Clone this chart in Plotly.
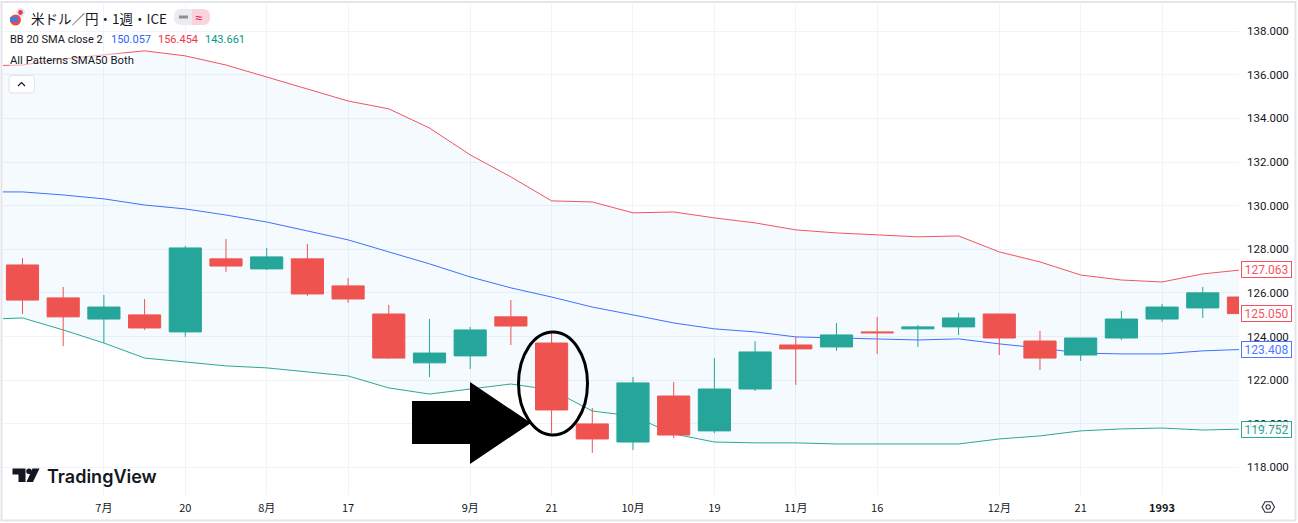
import plotly.graph_objects as go

W, H = 1298, 523

# ---------- data ----------
opens  = [127.28,125.77,124.80,124.99,124.21,127.56,127.10,127.56,126.32,125.03,122.79,123.11,124.90,123.70,119.99,119.16,121.27,119.67,121.59,123.61,123.52,124.21,124.35,124.44,125.03,123.79,123.15,123.93,124.80,125.31,125.81]
highs  = [127.60,126.27,125.90,125.72,128.15,128.47,128.06,128.24,126.68,125.45,124.80,124.44,125.67,124.25,120.72,122.14,121.91,123.01,123.79,123.98,124.62,124.90,124.53,125.08,125.03,124.25,123.93,125.17,125.49,126.27,125.81]
lows   = [125.03,123.56,123.70,124.30,123.98,126.96,127.05,125.86,125.54,122.97,122.14,122.51,123.61,119.57,118.66,118.79,119.34,119.57,121.50,121.78,123.34,123.20,123.52,124.07,123.15,122.46,122.88,123.84,124.67,124.85,125.05]
closes = [125.67,124.90,125.35,124.39,128.06,127.23,127.65,125.95,125.72,123.01,123.24,124.30,124.48,120.63,119.30,121.87,119.48,121.59,123.29,123.43,124.07,124.17,124.44,124.85,123.93,123.01,123.93,124.80,125.35,126.00,125.050]
candle_idx = list(range(31))

band_idx = list(range(-1, 31))
upper = [136.41,136.45,136.73,136.91,137.10,136.87,136.45,135.90,135.35,134.80,134.44,133.56,132.33,131.32,130.22,130.17,129.67,129.71,129.44,129.21,128.89,128.75,128.66,128.57,128.61,127.88,127.42,126.82,126.59,126.50,126.87,127.063]
basis = [130.63,130.63,130.49,130.31,130.03,129.85,129.57,129.25,128.84,128.43,127.88,127.33,126.73,126.23,125.81,125.35,124.99,124.62,124.35,124.21,123.98,123.93,123.89,123.84,123.89,123.66,123.47,123.24,123.20,123.20,123.34,123.408]
lower = [124.78,124.85,124.30,123.70,123.01,122.83,122.65,122.56,122.37,122.19,121.64,121.36,121.59,121.82,121.55,120.58,120.35,119.53,119.16,119.12,119.12,119.07,119.07,119.07,119.07,119.30,119.44,119.67,119.76,119.80,119.71,119.752]

x_tick_pos = [2, 4, 6, 8, 11, 13, 15, 17, 19, 21, 24, 26, 28]
x_tick_txt = ["7月", "20", "8月", "17", "9月", "21", "10月", "19", "11月", "16", "12月", "21", "<b>1993</b>"]
y_ticks = [118, 120, 122, 124, 126, 128, 130, 132, 134, 136, 138]

title_text = "米ドル／円・1週・ICE"
bb_label = "BB 20 SMA close 2"
bb_values = ["150.057", "156.454", "143.661"]
pattern_label = "All Patterns SMA50 Both"

# ---------- style ----------
RED, GREEN = "#ef5350", "#26a69a"
L_RED, L_BLUE, L_GREEN = "#f23645", "#2962ff", "#089981"
LINE_RED, LINE_BLUE, LINE_GREEN = "rgba(242,54,69,0.85)", "rgba(41,98,255,0.9)", "rgba(8,153,129,0.85)"
GRID = "#f0f3fa"
TXT = "#131722"
UI = "Roboto, Arial, sans-serif"
CJK = "'Noto Sans CJK JP', sans-serif"
X_RANGE = [-0.479, 29.89]
Y_RANGE = [116.73, 139.34]


def X(p):
    return p / W


def Y(p):
    return 1 - p / H


def path(points, close=True):
    s = "M " + " L ".join(f"{X(a):.5f},{Y(b):.5f}" for a, b in points)
    return s + (" Z" if close else "")


def pill(x0, y0, x1, y1, r_left, r_right):
    return (f"M {X(x0+r_left):.5f},{Y(y0):.5f} L {X(x1-r_right):.5f},{Y(y0):.5f} "
            f"Q {X(x1):.5f},{Y(y0):.5f} {X(x1):.5f},{Y(y0+r_right):.5f} "
            f"L {X(x1):.5f},{Y(y1-r_right):.5f} Q {X(x1):.5f},{Y(y1):.5f} {X(x1-r_right):.5f},{Y(y1):.5f} "
            f"L {X(x0+r_left):.5f},{Y(y1):.5f} Q {X(x0):.5f},{Y(y1):.5f} {X(x0):.5f},{Y(y1-r_left):.5f} "
            f"L {X(x0):.5f},{Y(y0+r_left):.5f} Q {X(x0):.5f},{Y(y0):.5f} {X(x0+r_left):.5f},{Y(y0):.5f} Z")


def shape_path(p, fill=None, line=None, lw=0):
    return dict(type="path", xref="paper", yref="paper", path=p,
                fillcolor=fill or "rgba(0,0,0,0)",
                line=dict(color=line or "rgba(0,0,0,0)", width=lw), layer="above")


def oval(cx, cy, rx, ry, fill=None, line=None, lw=0):
    return dict(type="circle", xref="paper", yref="paper",
                x0=X(cx-rx), x1=X(cx+rx), y0=Y(cy+ry), y1=Y(cy-ry),
                fillcolor=fill or "rgba(0,0,0,0)",
                line=dict(color=line or "rgba(0,0,0,0)", width=lw), layer="above")


def label(px, py, text, size=11, color=TXT, anchor="left", font=UI, weight=None, **kw):
    f = dict(size=size, color=color, family=font)
    if weight:
        f["weight"] = weight
    return dict(xref="paper", yref="paper", x=X(px), y=Y(py), text=text, showarrow=False,
                xanchor=anchor, yanchor="middle", font=f, borderpad=0, **kw)


fig = go.Figure()
fig.add_trace(go.Scatter(x=band_idx, y=lower, mode="lines", line=dict(color=LINE_GREEN, width=1),
                         showlegend=False, hoverinfo="skip"))
fig.add_trace(go.Scatter(x=band_idx, y=upper, mode="lines", line=dict(color=LINE_RED, width=1),
                         fill="tonexty", fillcolor="rgba(33,150,243,0.05)", showlegend=False, hoverinfo="skip"))
fig.add_trace(go.Scatter(x=band_idx, y=basis, mode="lines", line=dict(color=LINE_BLUE, width=1),
                         showlegend=False, hoverinfo="skip"))
# candles sit on overlaying axes so that they draw above the band lines and fill
fig.add_trace(go.Candlestick(
    x=candle_idx, open=opens, high=highs, low=lows, close=closes, whiskerwidth=0,
    xaxis="x2", yaxis="y2",
    increasing=dict(line=dict(color=GREEN, width=1), fillcolor=GREEN),
    decreasing=dict(line=dict(color=RED, width=1), fillcolor=RED),
    showlegend=False))

shapes = [
    # chart frame
    dict(type="rect", xref="paper", yref="paper", x0=X(1.5), x1=X(1295.5), y0=Y(520.5), y1=Y(2),
         line=dict(color="#e3e5ea", width=2), layer="below"),
    # hand-drawn marks
    oval(553, 383.5, 34.5, 51.5, line="#000000", lw=3),
    shape_path(path([(412, 401), (470, 401), (470, 382), (531, 423), (470, 464), (470, 444), (412, 444)]), fill="#000000"),
    # TradingView logo
    shape_path(path([(12.5, 468.5), (25.5, 468.5), (25.5, 482), (18.5, 482), (18.5, 474.5), (12.5, 474.5)]), fill=TXT),
    oval(29, 471.2, 2.8, 2.8, fill=TXT),
    shape_path(path([(32.5, 468.5), (39.5, 468.5), (33, 482), (26.5, 482)]), fill=TXT),
    # flag
    oval(20.5, 12.5, 4.5, 4.5, fill="#e7e5f2"),
    oval(20.5, 12.5, 2.4, 2.4, fill="#f23645"),
    oval(15.5, 20, 5.5, 5.5, fill="#eb4a4a"),
    shape_path(path([(10, 17), (18, 17), (18, 22), (10, 22)]), fill="#4a78d8"),
    # pills
    shape_path(pill(174, 9, 192, 25, 7, 0), fill="#ececef"),
    shape_path(pill(192, 9, 210, 25, 0, 7), fill="#fbd3dc"),
    shape_path(path([(179, 17), (188, 17)], close=False), line="#8c8f99", lw=3),
    # collapse button
    shape_path(pill(9, 75.5, 34.5, 93, 3, 3), fill="#ffffff", line="#e0e3eb", lw=1),
    shape_path(path([(18, 86), (21.5, 82.5), (25, 86)], close=False), line=TXT, lw=1.2),
    # settings icon
    shape_path(path([(1262, 507), (1265, 501.8), (1271.5, 501.8), (1274.5, 507), (1271.5, 512.2), (1265, 512.2)]),
               line="#2a2e39", lw=1.1),
    oval(1268.2, 507, 2.2, 2.2, line="#2a2e39", lw=1.1),
]


def tag(value, color):
    return dict(xref="paper", yref="y", x=X(1241), y=value, xanchor="left", yanchor="middle",
                text=f"{value:.3f}", showarrow=False, font=dict(size=12, color=color, family=UI),
                bgcolor="#ffffff", bordercolor=color, borderwidth=1, borderpad=1,
                width=47, height=13, align="center", opacity=0.85)


annotations = [
    label(30, 17.5, title_text, size=13.5, font=CJK),
    label(198, 17, "≈", size=13, color="#e91e63", anchor="center"),
    label(8.5, 40, bb_label, size=11),
    label(109.5, 40, bb_values[0], size=11, color=L_BLUE),
    label(156.5, 40, bb_values[1], size=11, color=L_RED),
    label(203.5, 40, bb_values[2], size=11, color=L_GREEN),
    label(8.5, 61, pattern_label, size=11.3, bgcolor="rgba(255,255,255,0.5)"),
    label(46, 476.5, "TradingView", size=18, font="Inter, sans-serif", weight=600),
    tag(upper[-1], L_RED),
    tag(closes[-1], L_RED),
    tag(basis[-1], L_BLUE),
    tag(lower[-1], L_GREEN),
]

fig.update_layout(
    width=W, height=H, autosize=False,
    margin=dict(l=0, r=0, t=0, b=0),
    paper_bgcolor="#ffffff", plot_bgcolor="#ffffff",
    font=dict(family=UI, size=11, color=TXT),
    boxgap=0.21, boxgroupgap=0,
    shapes=shapes, annotations=annotations,
    xaxis=dict(domain=[X(3), X(1239)], range=X_RANGE, rangeslider=dict(visible=False),
               tickmode="array", tickvals=x_tick_pos, ticktext=x_tick_txt,
               showgrid=True, gridcolor=GRID, gridwidth=1, zeroline=False, showline=False,
               ticks="", tickfont=dict(size=11, color=TXT, family=CJK), ticklabelstandoff=5),
    yaxis=dict(domain=[Y(495), Y(2)], range=Y_RANGE, side="right",
               tickmode="array", tickvals=y_ticks, ticktext=[f"{v:.3f}" for v in y_ticks],
               showgrid=True, gridcolor=GRID, gridwidth=1, zeroline=False, showline=False,
               ticks="", tickfont=dict(size=11.5, color=TXT, family=UI), ticklabelstandoff=7),
    xaxis2=dict(overlaying="x", range=X_RANGE, visible=False, rangeslider=dict(visible=False), anchor="y2"),
    yaxis2=dict(overlaying="y", range=Y_RANGE, visible=False, side="right", anchor="x2"),
)

fig.write_html("out.html", config=dict(displayModeBar=False),
               post_script="document.body.style.margin='0';document.documentElement.style.overflow='hidden';")
